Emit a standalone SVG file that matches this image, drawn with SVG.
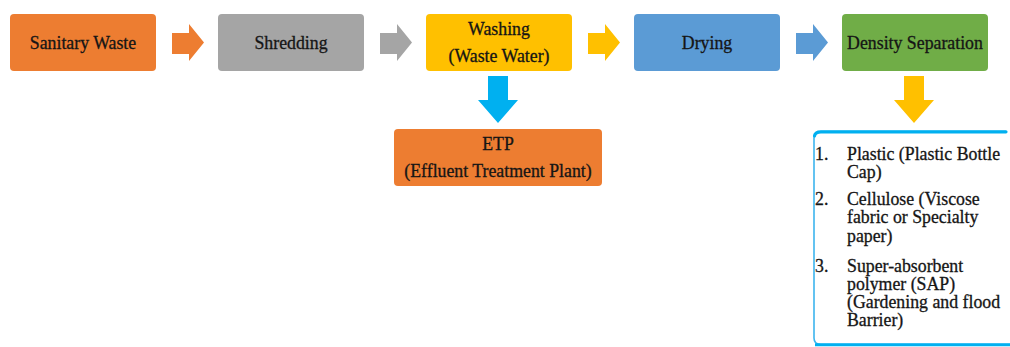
<svg xmlns="http://www.w3.org/2000/svg" width="1010" height="347" viewBox="0 0 1010 347" font-family="'Liberation Serif', 'DejaVu Serif', serif">
  <defs>
    <style>
      text { font-family: 'Liberation Serif', 'DejaVu Serif', serif; font-size: 17.8px; fill: #151515; stroke: #151515; stroke-width: 0.3px; }
      .mid { text-anchor: middle; }
    </style>
    <!-- block arrow pointing right, 32 x 37 -->
    <path id="arrowRight" d="M0,9 H17 V0 L32,18.5 L17,37 V30 H0 Z"/>
    <!-- block arrow pointing down, 40 x 47 -->
    <path id="arrowDown" d="M10,0 H30 V24 H40 L20,47 L0,24 H10 Z"/>
  </defs>

  <rect width="1010" height="347" fill="#ffffff"/>

  <!-- connectors -->
  <g id="connectors">
    <use href="#arrowRight" x="172" y="24" fill="#ED7D31"/>
    <use href="#arrowRight" x="380" y="24" fill="#A5A5A5"/>
    <use href="#arrowRight" x="588" y="24" fill="#FFC000"/>
    <use href="#arrowRight" x="796" y="24" fill="#5B9BD5"/>
    <use href="#arrowDown" x="478" y="76" fill="#00B0F0"/>
    <use href="#arrowDown" x="894" y="76" fill="#FFC000"/>
  </g>

  <!-- process steps -->
  <g id="sanitary-waste">
    <rect x="10" y="14" width="146" height="57" rx="4" fill="#ED7D31"/>
    <text class="mid" x="83" y="49">Sanitary Waste</text>
  </g>

  <g id="shredding">
    <rect x="218" y="14" width="146" height="57" rx="4" fill="#A5A5A5"/>
    <text class="mid" x="291" y="49">Shredding</text>
  </g>

  <g id="washing">
    <rect x="426" y="14" width="146" height="57" rx="4" fill="#FFC000"/>
    <text class="mid" x="499" y="35">Washing</text>
    <text class="mid" x="499" y="62">(Waste Water)</text>
  </g>

  <g id="drying">
    <rect x="634" y="14" width="146" height="57" rx="4" fill="#5B9BD5"/>
    <text class="mid" x="707" y="49">Drying</text>
  </g>

  <g id="density-separation">
    <rect x="842" y="14" width="146" height="57" rx="4" fill="#70AD47"/>
    <text class="mid" x="915" y="49">Density Separation</text>
  </g>

  <g id="etp">
    <rect x="394" y="129" width="208" height="57" rx="4" fill="#ED7D31"/>
    <text class="mid" x="498" y="150">ETP</text>
    <text class="mid" x="498" y="177">(Effluent Treatment Plant)</text>
  </g>

  <!-- separated products -->
  <g id="products">
    <path d="M1006,131.5 H821 Q814,131.5 814,138 V338 Q814,344.5 821,344.5 H1012" fill="#ffffff" stroke="#3DB5EE" stroke-width="1.6"/>
    <path d="M1006,131.8 H821 Q815,131.8 814.5,136" fill="none" stroke="#00B0F0" stroke-width="3.2" stroke-linecap="round"/>
    <path d="M815,344.8 H1012" fill="none" stroke="#00B0F0" stroke-width="3"/>
    <text x="815" y="160">1.</text>
    <text x="847" y="160">Plastic (Plastic Bottle</text>
    <text x="847" y="178">Cap)</text>
    <text x="815" y="205">2.</text>
    <text x="847" y="205">Cellulose (Viscose</text>
    <text x="847" y="223">fabric or Specialty</text>
    <text x="847" y="242">paper)</text>
    <text x="815" y="272">3.</text>
    <text x="847" y="272">Super-absorbent</text>
    <text x="847" y="290">polymer (SAP)</text>
    <text x="847" y="308">(Gardening and flood</text>
    <text x="847" y="326">Barrier)</text>
  </g>
</svg>
